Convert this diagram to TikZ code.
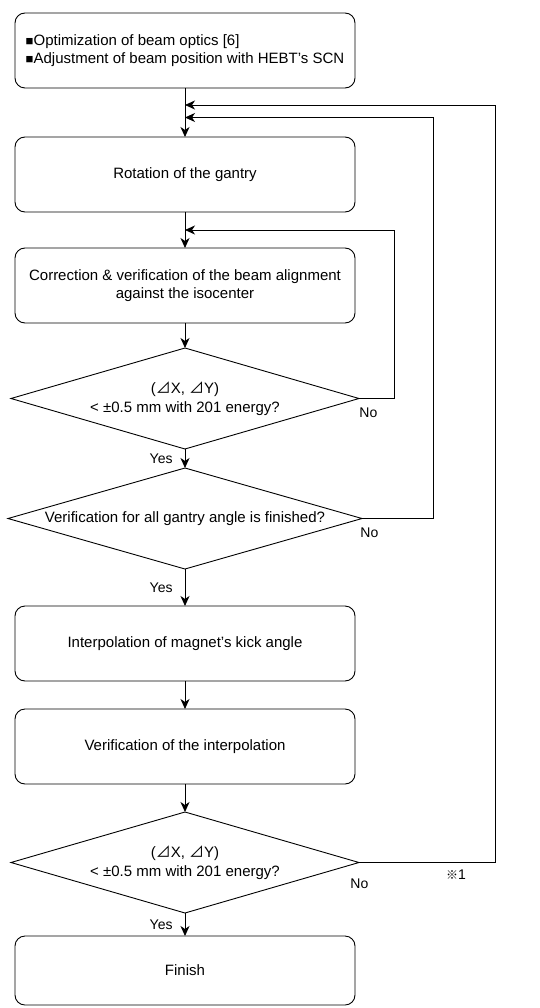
\documentclass[tikz,border=0pt]{standalone}
\usepackage{fontspec}
\setmainfont{Liberation Sans}
\newfontfamily\cjkfont{Noto Sans CJK JP}
\usetikzlibrary{shapes.geometric,arrows.meta,positioning}
\newcommand{\dtri}{{\cjkfont ⊿}}
\newcommand{\blk}{{\fontsize{13}{13}\selectfont ■}}

\begin{document}
\begin{tikzpicture}[
  x=1pt, y=-1pt,
  font=\fontsize{15}{18.5}\selectfont,
  line width=0.9pt,
  node distance=28pt,
  proc/.style={draw,rounded corners=10pt,minimum width=340pt,minimum height=75pt,align=center,inner sep=4pt,outer sep=0pt},
  decide/.style={draw,diamond,aspect=3.4,inner sep=0pt,outer sep=0pt,minimum width=348pt,minimum height=101pt,align=center},
  lbl/.style={font=\fontsize{14}{16}\selectfont,inner sep=1pt},
  arrow/.style={-{Stealth[length=10pt,width=9pt,inset=3pt]}},
]
\useasboundingbox (0,0) rectangle (539,1008);

% main column
\node[proc, align=left] (prep) at (185,50.5) {\blk Optimization of beam optics [6]\\\blk Adjustment of beam position with HEBT's SCN};
\node[proc, below=49pt of prep] (rot) {Rotation of the gantry};
\node[proc, below=36pt of rot] (corr) {Correction \& verification of the beam alignment\\against the isocenter};
\node[decide, below=25pt of corr] (chk1) {(\dtri X,\ \dtri Y)\\< ±0.5 mm with 201 energy?};
\node[decide, below=19pt of chk1, minimum width=354pt] (chk2) {Verification for all gantry angle is finished?};
\node[proc, below=37pt of chk2] (interp) {Interpolation of magnet's kick angle};
\node[proc, below=28pt of interp] (verif) {Verification of the interpolation};
\node[decide, below=28pt of verif] (chk3) {(\dtri X,\ \dtri Y)\\< ±0.5 mm with 201 energy?};
\node[proc, below=23pt of chk3, minimum height=69pt] (fin) {Finish};

% merge points on the main line
\coordinate (m1) at ([yshift=-17pt]prep.south);
\coordinate (m2) at ([yshift=-29.5pt]prep.south);
\coordinate (m3) at ([yshift=-18pt]rot.south);

\draw[arrow] (prep) -- (rot);
\draw[arrow] (rot) -- (corr);
\draw[arrow] (corr) -- (chk1);
\draw[arrow] (chk1) -- node[lbl, left=11pt] {Yes} (chk2);
\draw[arrow] (chk2) -- node[lbl, left=11pt] {Yes} (interp);
\draw[arrow] (interp) -- (verif);
\draw[arrow] (verif) -- (chk3);
\draw[arrow] (chk3) -- node[lbl, left=11pt] {Yes} (fin);

% loops back
\draw[arrow] (chk1.east) -- ++(35,0) |- (m3);
\draw[arrow] (chk2.east) -- ++(71,0) |- (m2);
\draw[arrow] (chk3.east) -- ++(136,0) |- (m1);

\node[lbl, anchor=west] (no1) at ([xshift=-1pt,yshift=-14pt]chk1.east) {No};
\node[lbl, anchor=west] (no2) at ([xshift=-3pt,yshift=-14pt]chk2.east) {No};
\node[lbl, anchor=west] (no3) at ([xshift=-10pt,yshift=-21pt]chk3.east) {No};
\node[lbl] (note1) at (456,875) {{\cjkfont\fontsize{12}{12}\selectfont ※}1};
\end{tikzpicture}
\end{document}
